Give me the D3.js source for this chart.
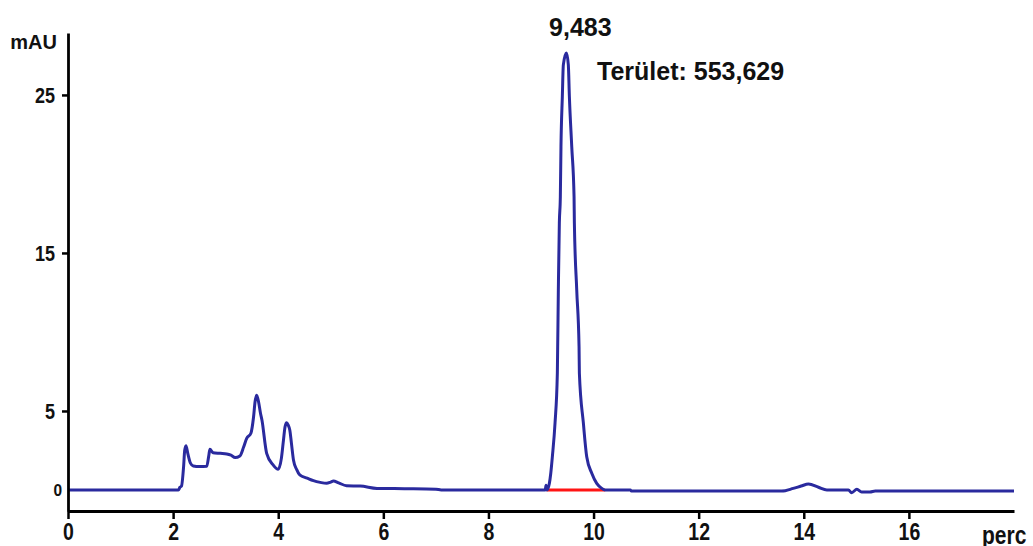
<!DOCTYPE html>
<html>
<head>
<meta charset="utf-8">
<script src="https://cdn.jsdelivr.net/npm/d3@7"></script>
<style>
  html, body { margin: 0; padding: 0; background: #fff; }
  svg { display: block; }
  text { font-family: "Liberation Sans", Arial, sans-serif; font-weight: bold; fill: #111; }
</style>
</head>
<body>
<svg id="chart" width="1033" height="546"></svg>
<script>
// Retention time (perc) and detector signal (mAU) of the chromatogram trace
const times = [
  0, 1.0, 2.10, 2.13, 2.16, 2.20, 2.22, 2.245, 2.28, 2.33, 2.384, 2.50, 2.64, 2.68, 2.70, 2.76,
  2.90, 3.02, 3.10, 3.18, 3.27, 3.34, 3.40, 3.48, 3.53, 3.56, 3.59, 3.63, 3.66, 3.69, 3.78,
  3.90, 4.00, 4.06, 4.10, 4.13, 4.16, 4.19, 4.22, 4.25, 4.29, 4.35, 4.41, 4.55, 4.67, 4.80,
  4.92, 5.00, 5.05, 5.15, 5.30, 5.56, 5.88, 6.40, 7.00, 7.10, 8.50, 9.08, 9.096, 9.11,
  9.159, 9.186, 9.216, 9.267, 9.311, 9.33, 9.349, 9.368, 9.38, 9.406, 9.425, 9.483,
  9.52, 9.54, 9.585, 9.629, 9.635, 9.68, 9.724, 9.73, 9.806, 9.87, 9.966, 10.06, 10.15,
  10.22, 10.70, 10.72, 13.58, 13.80, 13.95, 14.09, 14.28, 14.44, 14.85, 14.91, 15.01,
  15.10, 15.26, 15.36, 18.0
];
const signal = [
  0, 0, 0, 0.17, 0.25, 1.5, 2.5, 2.8, 2.3, 1.7, 1.52, 1.48, 1.5, 2.2, 2.57, 2.36,
  2.32, 2.28, 2.2, 2.05, 2.15, 2.7, 3.27, 3.59, 4.6, 5.6, 6.0, 5.5, 4.9, 4.43, 2.32,
  1.6, 1.31, 2.0, 3.16, 4.0, 4.26, 4.1, 3.8, 3.0, 1.9, 1.3, 0.95, 0.75, 0.59, 0.48,
  0.42, 0.5, 0.57, 0.45, 0.27, 0.25, 0.1, 0.08, 0.05, 0, 0, 0, 0.3, 0,
  0.42, 1.06, 2.1, 4.24, 7.4, 12.66, 16.9, 18.56, 21.73, 24.9, 26.9, 27.65,
  26.9, 24.9, 21.73, 18.56, 16.9, 12.66, 9.07, 7.4, 4.24, 2.1, 1.06, 0.42, 0.12,
  0, 0, -0.07, -0.07, 0.1, 0.25, 0.38, 0.17, 0, 0, -0.17, 0.04,
  -0.13, -0.13, -0.07, -0.07
];

// Integration baseline under the main peak
const baselineStart = 9.11;
const baselineEnd = 10.22;

// Peak annotation
const peakTime = 9.483;
const peakTimeLabel = "9,483";
const peakArea = "553,629";

// Axis ticks
const xTicks = [0, 2, 4, 6, 8, 10, 12, 14, 16];
const yTicks = [0, 5, 15, 25];
const xUnit = "perc";
const yUnit = "mAU";

const svg = d3.select("#chart");

const x = d3.scaleLinear().domain([0, 18]).range([68, 1014]);
const y = d3.scaleLinear().domain([-1.33, 28.92]).range([511, 33]);

// Trace
const pts = times.map((t, i) => [t, signal[i]]);
const line = d3.line().x(d => x(d[0])).y(d => y(d[1])).curve(d3.curveMonotoneX);

// Red baseline of the integrated peak
svg.append("line")
  .attr("x1", x(baselineStart)).attr("x2", x(baselineEnd))
  .attr("y1", y(0)).attr("y2", y(0))
  .attr("stroke", "#ff1414").attr("stroke-width", 3);

svg.append("path")
  .datum(pts)
  .attr("d", line)
  .attr("fill", "none")
  .attr("stroke", "#2a2a9e")
  .attr("stroke-width", 3)
  .attr("stroke-linejoin", "round");

// Axes
const xAxis = svg.append("g")
  .attr("transform", `translate(0,${y.range()[0]})`)
  .call(d3.axisBottom(x).tickValues(xTicks).tickSize(8).tickSizeOuter(0)
    .tickFormat(d3.format("d")));
xAxis.select(".domain").attr("stroke", "#000").attr("stroke-width", 2.8);
xAxis.selectAll(".tick line").attr("stroke", "#000").attr("stroke-width", 2.5);
xAxis.selectAll(".tick text")
  .attr("y", 0).attr("dy", null)
  .attr("transform", "translate(0,29) scale(1,1.27)")
  .attr("font-size", 19.5).attr("fill", "#111")
  .style("font-family", "'Liberation Sans', Arial, sans-serif").style("font-weight", "bold");

const yAxis = svg.append("g")
  .attr("transform", `translate(${x.range()[0]},0)`)
  .call(d3.axisLeft(y).tickValues(yTicks).tickSize(6).tickSizeOuter(0)
    .tickFormat(d3.format("d")));
yAxis.select(".domain").attr("stroke", "#000").attr("stroke-width", 2.8);
yAxis.selectAll(".tick line").attr("stroke", "#000").attr("stroke-width", 2.5);
yAxis.selectAll(".tick text")
  .attr("x", 0).attr("dy", null).attr("y", 0)
  .attr("transform", "translate(-13,8) scale(1,1.2)")
  .attr("font-size", 18).attr("fill", "#111")
  .style("font-family", "'Liberation Sans', Arial, sans-serif").style("font-weight", "bold");
// the zero label sits tight against the axis, slightly smaller
yAxis.selectAll(".tick").filter(d => d === 0).select("line").remove();
yAxis.selectAll(".tick").filter(d => d === 0).select("text")
  .attr("transform", "translate(-6,6) scale(1,1.1)").attr("font-size", 15.5);

// Unit labels
svg.append("text").attr("x", 57).attr("y", 49).attr("text-anchor", "end")
  .attr("font-size", 20).text(yUnit);
svg.append("text").attr("x", 982).attr("y", 0)
  .attr("transform", "translate(0,544) scale(1,1.2)")
  .attr("font-size", 21).text(xUnit);

// Peak annotations
svg.append("text").attr("x", x(peakTime) + 14).attr("y", 36).attr("text-anchor", "middle")
  .attr("font-size", 25).text(peakTimeLabel);
svg.append("text").attr("x", 597).attr("y", 80)
  .attr("font-size", 25).text("Terület: " + peakArea);
</script>
</body>
</html>
